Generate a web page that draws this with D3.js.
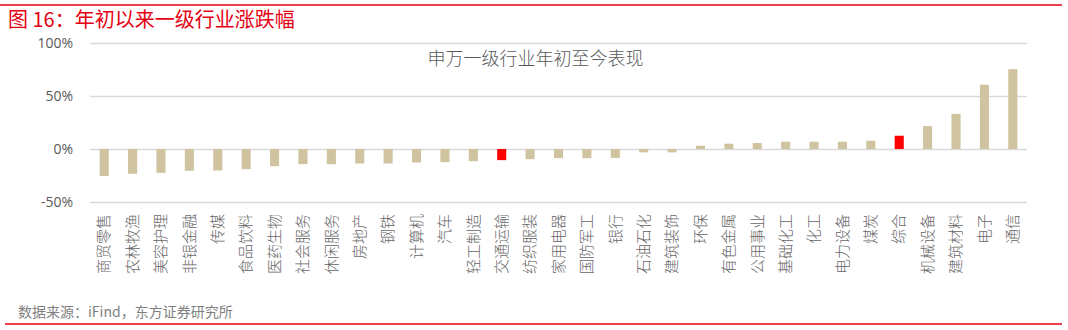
<!DOCTYPE html>
<html>
<head>
<meta charset="utf-8">
<script src="https://cdn.jsdelivr.net/npm/d3@7"></script>
<style>
  body { margin: 0; background: #fff; }
  svg { display: block; font-family: "Noto Sans CJK SC", "Noto Sans", sans-serif; }
</style>
</head>
<body>
<svg id="chart" width="1068" height="330"></svg>
<script>
// industry names, left to right
var industries = ["商贸零售", "农林牧渔", "美容护理", "非银金融", "传媒", "食品饮料", "医药生物",
    "社会服务", "休闲服务", "房地产", "钢铁", "计算机", "汽车", "轻工制造", "交通运输", "纺织服装",
    "家用电器", "国防军工", "银行", "石油石化", "建筑装饰", "环保", "有色金属", "公用事业",
    "基础化工", "化工", "电力设备", "煤炭", "综合", "机械设备", "建筑材料", "电子", "通信"];

// year-to-date change, %
var changes = [-25.5, -23.4, -22.5, -20.6, -20.3, -19.0, -16.2,
    -14.3, -14.3, -13.7, -13.7, -12.7, -12.4, -11.5, -10.5, -9.6,
    -8.6, -8.7, -8.4, -3.2, -3.2, 3.1, 5.0, 5.6,
    6.9, 6.9, 6.9, 7.8, 12.5, 21.6, 33.1, 60.6, 75.3];

// highlighted bars
var highlighted = ["交通运输", "综合"];

var yTicks = [-50, 0, 50, 100];

var svg = d3.select("#chart");

var margin = { left: 90, right: 1027, top: 43, bottom: 202 };

var x = d3.scaleBand()
    .domain(industries)
    .range([margin.left, margin.right])
    .paddingInner(0.68)
    .paddingOuter(0.34);

var y = d3.scaleLinear()
    .domain([-50, 100])
    .range([margin.bottom, margin.top]);

// frame lines and titles
svg.append("line")
    .attr("x1", 0).attr("x2", 1062)
    .attr("y1", 5).attr("y2", 5)
    .attr("stroke", "#e60012").attr("stroke-width", 1.5);

svg.append("text")
    .attr("x", 8).attr("y", 27)
    .attr("fill", "#e60012")
    .attr("font-size", 20)
    .text("图 16：年初以来一级行业涨跌幅");

svg.append("line")
    .attr("x1", 5).attr("x2", 1062)
    .attr("y1", 324).attr("y2", 324)
    .attr("stroke", "#e60012").attr("stroke-width", 1.5);

svg.append("text")
    .attr("x", 18).attr("y", 317)
    .attr("fill", "#7f7f7f")
    .attr("font-size", 14)
    .text("数据来源：iFind，东方证券研究所");

// gridlines + y axis labels
var yAxis = d3.axisLeft(y)
    .tickValues(yTicks)
    .tickSize(-(margin.right - margin.left))
    .tickPadding(17)
    .tickFormat(function (d) { return d + "%"; });

var gy = svg.append("g")
    .attr("transform", "translate(" + margin.left + ",0)")
    .call(yAxis);

gy.select(".domain").remove();
gy.selectAll(".tick line")
    .attr("stroke", "#d9d9d9")
    .attr("stroke-width", 1.3);
gy.selectAll(".tick text")
    .attr("fill", "#595959")
    .attr("font-size", 14)
    .attr("font-family", "'Open Sans', 'Noto Sans', sans-serif");

// chart title inside plot
svg.append("text")
    .attr("x", (margin.left + margin.right) / 2 - 23)
    .attr("y", 65)
    .attr("text-anchor", "middle")
    .attr("fill", "#595959")
    .attr("font-size", 18)
    .attr("font-weight", 300)
    .text("申万一级行业年初至今表现");

// bars
svg.append("g")
  .selectAll("rect")
  .data(industries)
  .join("rect")
    .attr("x", function (d) { return x(d); })
    .attr("width", x.bandwidth())
    .attr("y", function (d, i) { return y(Math.max(0, changes[i])); })
    .attr("height", function (d, i) { return Math.abs(y(changes[i]) - y(0)); })
    .attr("fill", function (d) { return highlighted.indexOf(d) >= 0 ? "#ff0000" : "#cfc3a0"; });

// x labels, rotated
var xAxis = d3.axisBottom(x).tickSize(0).tickPadding(0);
var gx = svg.append("g")
    .attr("transform", "translate(0," + 214 + ")")
    .call(xAxis);
gx.select(".domain").remove();
gx.selectAll(".tick text")
    .attr("transform", "rotate(-90)")
    .attr("x", 0)
    .attr("y", 0)
    .attr("dy", "0.35em")
    .attr("text-anchor", "end")
    .attr("fill", "#666666")
    .attr("font-size", 15)
    .attr("font-weight", 300)
    .attr("font-family", "'Noto Sans CJK SC', sans-serif");
</script>
</body>
</html>
